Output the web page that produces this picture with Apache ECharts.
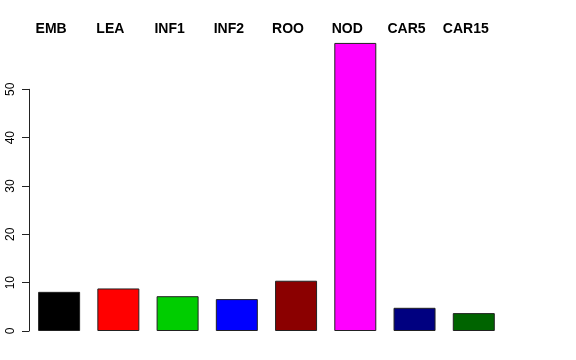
<!DOCTYPE html>
<html>
<head>
<meta charset="utf-8">
<script src="https://cdn.jsdelivr.net/npm/echarts@6/dist/echarts.min.js"></script>
<style>html,body{margin:0;padding:0;background:#fff;}#c{width:576px;height:360px;}</style>
</head>
<body>
<div id="c"></div>
<script>
const categories = ['EMB', 'LEA', 'INF1', 'INF2', 'ROO', 'NOD', 'CAR5', 'CAR15'];
const values = [8.1, 8.8, 7.2, 6.6, 10.4, 59.6, 4.8, 3.7];
const barColors = ['#000000', '#FF0000', '#00CD00', '#0000FF', '#8B0000', '#FF00FF', '#000080', '#006400'];
const yTicks = [0, 10, 20, 30, 40, 50];

const chart = echarts.init(document.getElementById('c'), null, {renderer: 'canvas'});
const font = 'Liberation Sans, Arial, Helvetica, sans-serif';
chart.setOption({
  backgroundColor: '#ffffff',
  animation: false,
  grid: [
    {left: 29.5, right: 72.6, top: 41, bottom: 29},
    {left: 29, right: 72.6, top: 89.3, bottom: 29},
    {left: 21.5, right: 80.6, top: 41, bottom: 29}
  ],
  xAxis: [
    {type: 'category', gridIndex: 0, data: categories, show: false},
    {type: 'category', gridIndex: 1, data: categories, show: false},
    {type: 'category', gridIndex: 2, data: categories, position: 'top',
     axisLine: {show: false}, axisTick: {show: false},
     axisLabel: {margin: 4.5, fontFamily: font, fontSize: 14, fontWeight: 'bold', color: '#000', interval: 0}}
  ],
  yAxis: [
    {type: 'value', gridIndex: 0, min: 0, max: 60, show: false},
    {type: 'value', gridIndex: 1, min: yTicks[0], max: yTicks[yTicks.length - 1], interval: 10,
     axisLine: {show: true, lineStyle: {color: '#222', width: 1}},
     axisTick: {show: true, length: 7, lineStyle: {color: '#222'}},
     splitLine: {show: false},
     axisLabel: {rotate: 90, margin: 12, fontFamily: font, fontSize: 12, color: '#000'}},
    {type: 'value', gridIndex: 2, show: false}
  ],
  series: [{
    type: 'bar',
    xAxisIndex: 0, yAxisIndex: 0,
    barWidth: 42,
    data: values.map((v, i) => ({value: v, itemStyle: {color: barColors[i]}})),
    itemStyle: {borderColor: '#222', borderWidth: 1}
  }]
});
</script>
</body>
</html>
